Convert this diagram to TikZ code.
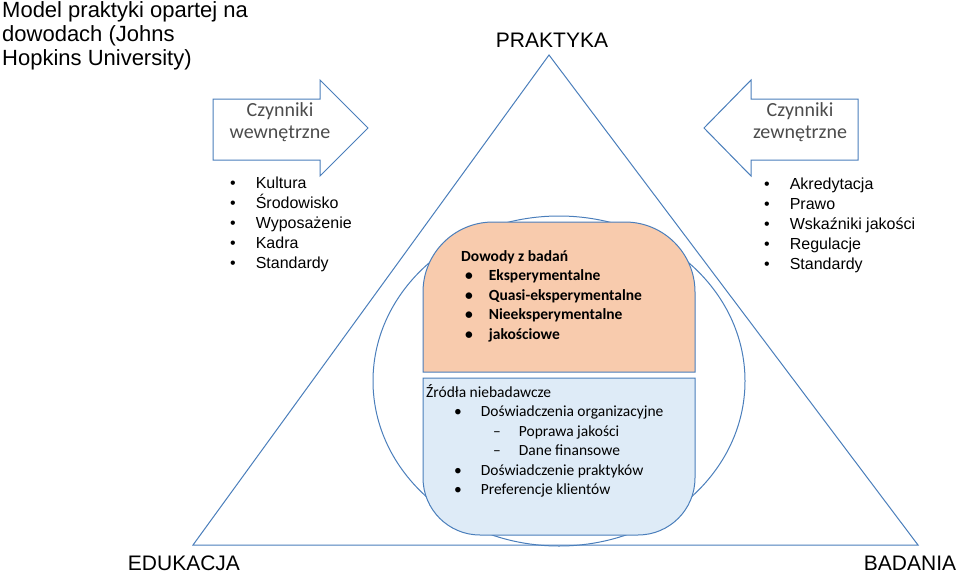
\documentclass[tikz,border=0pt]{standalone}
\usepackage{fontspec}
\setmainfont{Liberation Sans}
\newfontfamily\calfont{Carlito}
\begin{document}
\begin{tikzpicture}[x=1pt,y=-1pt,
 lst/.style={anchor=north west,align=left,font=\fontsize{16}{20}\selectfont,inner sep=0},
 box/.style={anchor=north west,align=left,font=\calfont\fontsize{15.5}{19.5}\selectfont,inner sep=0}]
\useasboundingbox (0,0) rectangle (960,573);
\definecolor{ed}{HTML}{4A7EBB}
\definecolor{or}{HTML}{F8CBAD}
\definecolor{bl}{HTML}{DEEBF7}
\draw[ed,line width=1pt] (549,55) coordinate (apex) -- (193,545) coordinate (bl) -- (918,545) coordinate (br) -- cycle;
\draw[ed,line width=1pt] (559,381) ellipse [x radius=186, y radius=165];
\draw[ed,fill=or,line width=1pt] (423,372) -- (423,292) arc[start angle=180,end angle=270,radius=70] -- (625,222) arc[start angle=270,end angle=360,radius=70] -- (695,372) -- cycle;
\draw[ed,fill=bl,line width=1pt] (423,378) -- (423,478) arc[start angle=180,end angle=90,radius=57] -- (638,535) arc[start angle=90,end angle=0,radius=57] -- (695,378) -- cycle;
\draw[ed,fill=white,line width=1pt] (213,99) -- (320,99) -- (320,80) -- (368,128) -- (320,176) -- (320,160) -- (213,160) -- cycle;
\draw[ed,fill=white,line width=1pt] (858,99) -- (751,99) -- (751,80) -- (704,128) -- (751,176) -- (751,160) -- (858,160) -- cycle;
\node (wl) at (280,122) [align=center,font=\calfont\fontsize{20}{22}\selectfont,text=black!70] {Czynniki\\wewnętrzne};
\node (wr) at (800,122) [align=center,font=\calfont\fontsize{20}{22}\selectfont,text=black!70] {Czynniki\\zewnętrzne};
\node (title) at (2,1) [anchor=north west,align=left,inner sep=0,font=\fontsize{22}{24}\selectfont] {Model praktyki opartej na\\dowodach (Johns\\Hopkins University)};
\node (pr) at (552,40) [font=\fontsize{21}{22}\selectfont] {PRAKTYKA};
\node (ed) at (184,563) [font=\fontsize{21}{22}\selectfont] {EDUKACJA};
\node (ba) at (910,563) [font=\fontsize{21}{22}\selectfont] {BADANIA};
\node (l1) at (230,177) [lst] {•\hspace{20pt}Kultura\\•\hspace{20pt}Środowisko\\•\hspace{20pt}Wyposażenie\\•\hspace{20pt}Kadra\\•\hspace{20pt}Standardy};
\node (l2) at (764,178) [lst] {•\hspace{20pt}Akredytacja\\•\hspace{20pt}Prawo\\•\hspace{20pt}Wskaźniki jakości\\•\hspace{20pt}Regulacje\\•\hspace{20pt}Standardy};
\node (b1) at (461,250) [box] {\textbf{Dowody z badań}\\[0pt]\hspace{4pt}\textbf{•\hspace{16pt}Eksperymentalne}\\\hspace{4pt}\textbf{•\hspace{16pt}Quasi-eksperymentalne}\\\hspace{4pt}\textbf{•\hspace{16pt}Nieeksperymentalne}\\\hspace{4pt}\textbf{•\hspace{16pt}jakościowe}};
\node (b2) at (426,384) [box] {Źródła niebadawcze\\\hspace{28pt}•\hspace{19pt}Doświadczenia organizacyjne\\\hspace{67pt}–\hspace{18pt}Poprawa jakości\\\hspace{67pt}–\hspace{18pt}Dane finansowe\\\hspace{28pt}•\hspace{19pt}Doświadczenie praktyków\\\hspace{28pt}•\hspace{19pt}Preferencje klientów};
\end{tikzpicture}
\end{document}
